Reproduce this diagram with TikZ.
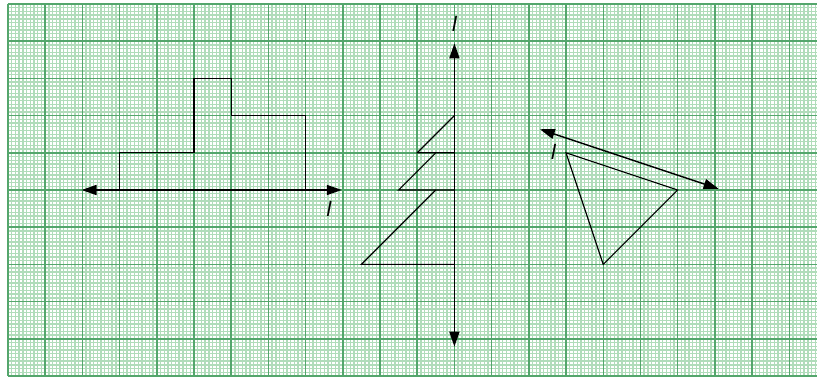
\documentclass[tikz,border=0pt]{standalone}
\usepackage{fontspec}
\setmainfont{Liberation Sans}
\usetikzlibrary{arrows.meta}
\definecolor{minorgrid}{RGB}{176,220,186}
\definecolor{majorgrid}{RGB}{84,166,108}
\begin{document}
\begin{tikzpicture}[
  axisline/.style={line width=1.1pt, {Triangle[length=0.4cm,width=0.27cm]}-{Triangle[length=0.4cm,width=0.27cm]}},
  figline/.style={line width=0.9pt, line join=miter},
  lab/.style={font=\fontsize{16}{16}\selectfont\itshape, inner sep=0pt},
  minorline/.style={minorgrid, line width=1.05pt},
  majorline/.style={majorgrid, line width=1.1pt}
]
\useasboundingbox (-0.215,0.1075) rectangle (21.747,-10.0);
\fill[white] (-0.215,0.1075) rectangle (21.747,-10.0);
% grid paper: minor lines
\foreach \i in {0,...,217} {
  \draw[minorline] ({\i*0.1},0) -- ({\i*0.1},-10);
}
\foreach \j in {0,...,100} {
  \draw[minorline] (0,{-\j*0.1}) -- (21.747,{-\j*0.1});
}
% grid paper: major lines
\foreach \i in {0,...,21} {
  \draw[majorline] (\i,0) -- (\i,-10);
}
\foreach \j in {0,...,10} {
  \draw[majorline] (0,-\j) -- (21.747,-\j);
}

% ---- figure 1 ----
\coordinate (a1) at (1.98,-5);
\coordinate (a2) at (8.97,-5);
\draw[axisline] (a1) -- (a2);
\coordinate (p1) at (3,-5);
\coordinate (p2) at (5,-4);
\coordinate (p3) at (6,-2);
\coordinate (p4) at (8,-3);
\coordinate (p5) at (8,-5);
\draw[figline] (p1) |- (p2) |- (p3) |- (p4) -- (p5);
\node[lab] (l1) at (8.63,-5.51) {l};

% ---- figure 2 ----
\coordinate (b1) at (12,-1.06);
\coordinate (b2) at (12,-9.21);
\draw[axisline] (b1) -- (b2);
\coordinate (t1a) at (12,-3);
\coordinate (t1b) at (11,-4);
\coordinate (t1c) at (12,-4);
\coordinate (t2a) at (11.5,-4);
\coordinate (t2b) at (10.5,-5);
\coordinate (t2c) at (12,-5);
\coordinate (t3a) at (11.5,-5);
\coordinate (t3b) at (9.5,-7);
\coordinate (t3c) at (12,-7);
\draw[figline] (t1a) -- (t1b) -- (t1c);
\draw[figline] (t2a) -- (t2b) -- (t2c);
\draw[figline] (t3a) -- (t3b) -- (t3c);
\node[lab] (l2) at (12.0,-0.54) {l};

% ---- figure 3 ----
\coordinate (c1) at (14.3,-3.367);
\coordinate (c2) at (19.1,-4.967);
\draw[axisline] (c1) -- (c2);
\coordinate (q1) at (15,-4);
\coordinate (q2) at (18,-5);
\coordinate (q3) at (16,-7);
\draw[figline] (q1) -- (q2) -- (q3) -- cycle;
\node[lab] (l3) at (14.66,-3.97) {l};
\end{tikzpicture}
\end{document}
